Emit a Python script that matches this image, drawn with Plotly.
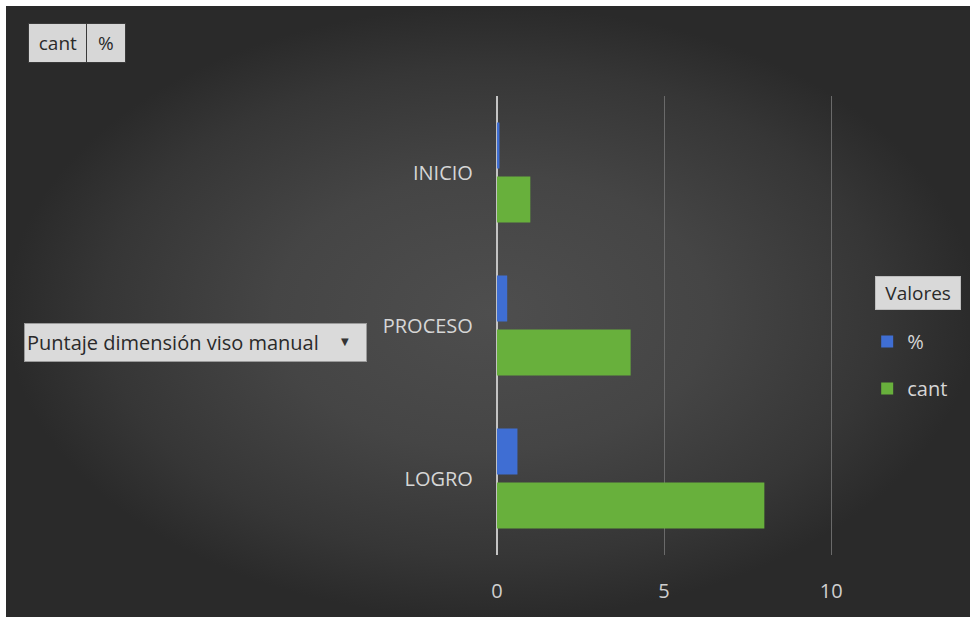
import plotly.graph_objects as go

# ---- data ----
categories = ["INICIO", "PROCESO", "LOGRO"]
cant_values = [1, 4, 8]
pct_values = [0.077, 0.308, 0.615]
series_names = ["cant", "%"]
x_ticks = [0, 5, 10]

H = 617
W = 985                      # figure width; the photographed picture is slightly narrowed
SX, OX = 0.985, 6.5          # observed horizontal mapping of the picture
FONT = "Open Sans"

raw = lambda X: (X - OX) / SX          # target picture px -> figure px
px = lambda X: raw(X) / W              # target picture px -> paper fraction
py = lambda Y: 1 - Y / H
wd = lambda w: w / SX                  # target width -> figure width

fig = go.Figure()

# background radial gradient panel (decoration) on its own hidden axes
fig.add_trace(go.Scatter(
    x=[0, W, W, 0, 0], y=[6, 6, H + 2, H + 2, 6],
    mode="lines", line=dict(width=0), fill="toself",
    fillgradient=dict(type="radial",
                      colorscale=[[0, "#4e4e4e"], [0.45, "#454545"],
                                  [0.8, "#363636"], [1, "#2a2a2a"]]),
    hoverinfo="skip", showlegend=False, xaxis="x", yaxis="y",
))

fig.add_trace(go.Bar(
    name=series_names[0], y=categories, x=cant_values, orientation="h",
    marker=dict(color="#68B03C", line=dict(width=0)),
    xaxis="x2", yaxis="y2", legendgroup="g1", legendrank=2,
))
fig.add_trace(go.Bar(
    name=series_names[1], y=categories, x=pct_values, orientation="h",
    marker=dict(color="#3F6ED3", line=dict(width=0)),
    xaxis="x2", yaxis="y2", legendgroup="g2", legendrank=1,
))

fig.update_layout(
    width=W, height=H, autosize=False,
    margin=dict(l=0, r=0, t=0, b=0, pad=0),
    paper_bgcolor="#ffffff", plot_bgcolor="rgba(0,0,0,0)",
    font=dict(family=FONT, color="#d6d6d6", size=17),
    barmode="group", bargap=0.294, bargroupgap=0.148,
    xaxis=dict(domain=[0, 1], range=[0, W], visible=False, fixedrange=True),
    yaxis=dict(domain=[0, 1], range=[H, 0], visible=False, fixedrange=True),
    xaxis2=dict(
        domain=[px(497), px(834.4)], range=[0, 10.1], tickvals=x_ticks,
        anchor="y2", showgrid=True, gridcolor="#6a6a6a", gridwidth=1,
        zeroline=True, zerolinecolor="#c4c4c4", zerolinewidth=2,
        showline=False, ticks="", ticklabelstandoff=22,
        tickfont=dict(size=20, color="#cfcfcf", family=FONT),
    ),
    yaxis2=dict(
        domain=[py(555), py(96)], type="category",
        categoryorder="array", categoryarray=categories[::-1],
        anchor="x2", showgrid=False, zeroline=False, showline=False,
        ticks="", ticklabelstandoff=23,
        tickfont=dict(size=20, color="#d6d6d6", family=FONT),
    ),
    legend=dict(
        x=px(867), xanchor="left", y=py(322), yanchor="top",
        traceorder="grouped", tracegroupgap=18,
        bgcolor="rgba(0,0,0,0)", font=dict(size=20, color="#d6d6d6", family=FONT),
    ),
    showlegend=True,
)

box_font = dict(family=FONT, size=19, color="#2a2a2a")
annotations = [
    dict(text="Valores", x=px(875), y=py(276), xanchor="left", yanchor="top",
         width=wd(83), height=32, bgcolor="#d9d9d9", bordercolor="#bdbdbd",
         borderwidth=1, borderpad=0, font=dict(family=FONT, size=19, color="#2a2a2a")),
    dict(text="cant", x=px(28), y=py(23), xanchor="left", yanchor="top",
         width=wd(57), height=38, bgcolor="#d7d7d7", bordercolor="#3a3a3a",
         borderwidth=1, borderpad=0, font=box_font),
    dict(text="%", x=px(86), y=py(23), xanchor="left", yanchor="top",
         width=wd(37), height=38, bgcolor="#d7d7d7", bordercolor="#3a3a3a",
         borderwidth=1, borderpad=0, font=box_font),
    dict(text="Puntaje dimensión viso manual", x=px(24), y=py(323),
         xanchor="left", yanchor="top", align="left",
         width=wd(332), height=33, bgcolor="#dadada", bordercolor="#9a9a9a",
         borderwidth=1, borderpad=2, font=dict(family=FONT, size=20, color="#2a2a2a")),
    dict(text="▼", x=px(345), y=py(342), xanchor="center", yanchor="middle",
         showarrow=False, font=dict(family="DejaVu Sans", size=10, color="#333333")),
]
for a in annotations:
    a.setdefault("xref", "paper")
    a.setdefault("yref", "paper")
    a["showarrow"] = False
fig.update_layout(annotations=annotations)

fig.write_html(
    "out.html",
    config={"displayModeBar": False},
    post_script="document.body.style.margin='0';document.body.style.overflow='hidden';",
)
